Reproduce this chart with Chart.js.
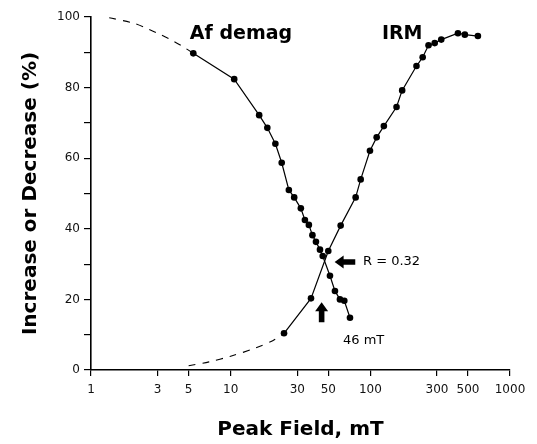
<!DOCTYPE html>
<html>
<head>
<meta charset="utf-8">
<script src="https://cdn.jsdelivr.net/npm/chart.js@4.4.1/dist/chart.umd.min.js"></script>
<style>
  html, body { margin: 0; padding: 0; background: #fff; }
  #wrap { width: 537px; height: 444px; position: relative; }
</style>
</head>
<body>
<div id="wrap"><canvas id="myChart"></canvas></div>
<script>
// Af demagnetisation curve (peak field mT, % remaining)
const afField = [5.4, 10.6, 16.0, 18.3, 20.9, 23.2, 26.1, 28.5, 31.8, 34.0, 36.3, 38.5, 40.8, 43.6, 45.6, 51.4, 55.8, 60.6, 65.1, 71.5];
const afValue = [89.7, 82.4, 72.2, 68.6, 64.1, 58.7, 51.0, 48.9, 45.8, 42.5, 41.1, 38.2, 36.3, 34.1, 32.3, 26.7, 22.4, 20.0, 19.6, 14.8];
// IRM acquisition curve
const irmField = [24.1, 37.6, 50.0, 61.3, 78.5, 85.3, 99.4, 111, 125, 154, 169, 214, 237, 261, 289, 322, 424, 475, 589];
const irmValue = [10.4, 20.3, 33.7, 40.9, 48.9, 54.0, 62.1, 65.9, 69.1, 74.5, 79.2, 86.1, 88.6, 92.0, 92.6, 93.6, 95.4, 95.0, 94.6];
// dashed extrapolations
const afExtField = [1.35, 2.0, 2.5, 3.0, 3.8, 4.6, 5.4];
const afExtValue = [99.8, 98.3, 96.8, 95.4, 93.4, 91.5, 89.7];
const irmExtField = [5.0, 7.0, 10.0, 15.0, 20.0, 24.1];
const irmExtValue = [1.2, 2.3, 3.9, 6.2, 8.3, 10.4];

const xTicks = [1, 3, 5, 10, 30, 50, 100, 300, 500, 1000];
const yTickLabels = [0, 20, 40, 60, 80, 100];

const toPoints = (xs, ys) => xs.map((v, i) => ({ x: v, y: ys[i] }));

// arrows and text labels, placed in data units
const notes = {
    id: 'notes',
    afterDatasetsDraw(chart) {
        const { ctx, scales: { x, y } } = chart;
        ctx.save();
        ctx.fillStyle = '#000';

        function arrow(x1, y1, x2, y2) {
            const ang = Math.atan2(y2 - y1, x2 - x1);
            const len = Math.hypot(x2 - x1, y2 - y1);
            ctx.save();
            ctx.translate(x1, y1);
            ctx.rotate(ang);
            ctx.beginPath();
            ctx.moveTo(0, -2.8);
            ctx.lineTo(len - 9, -2.8);
            ctx.lineTo(len - 9, -6.5);
            ctx.lineTo(len, 0);
            ctx.lineTo(len - 9, 6.5);
            ctx.lineTo(len - 9, 2.8);
            ctx.lineTo(0, 2.8);
            ctx.closePath();
            ctx.fill();
            ctx.restore();
        }

        // pointer to the crossing, and the 46 mT pointer
        arrow(x.getPixelForValue(78), y.getPixelForValue(30.6), x.getPixelForValue(55.5), y.getPixelForValue(30.6));
        arrow(x.getPixelForValue(44.8), y.getPixelForValue(13.5), x.getPixelForValue(44.8), y.getPixelForValue(19.2));

        ctx.textBaseline = 'middle';
        ctx.textAlign = 'left';
        ctx.font = '13px "DejaVu Sans"';
        ctx.fillText('R = 0.32', x.getPixelForValue(88.6), y.getPixelForValue(30.6));
        ctx.fillText('46 mT', x.getPixelForValue(63.7), y.getPixelForValue(8.2));

        ctx.font = 'bold 19px "DejaVu Sans"';
        ctx.fillText('Af demag', x.getPixelForValue(5.1), y.getPixelForValue(95.3));
        ctx.fillText('IRM', x.getPixelForValue(121), y.getPixelForValue(95.3));
        ctx.restore();
    }
};

const solid = {
    borderColor: '#000',
    backgroundColor: '#000',
    borderWidth: 1.2,
    pointRadius: 3.3,
    pointBorderWidth: 0,
    pointBackgroundColor: '#000',
    showLine: true,
    tension: 0
};
const dashed = {
    borderColor: '#000',
    borderWidth: 1.1,
    borderDash: [7, 7],
    pointRadius: 0,
    showLine: true,
    tension: 0.3
};

new Chart(document.getElementById('myChart'), {
    type: 'scatter',
    data: {
        datasets: [
            Object.assign({ label: 'Af demag', data: toPoints(afField, afValue) }, solid),
            Object.assign({ label: 'IRM', data: toPoints(irmField, irmValue) }, solid),
            Object.assign({ label: 'Af extrap', data: toPoints(afExtField, afExtValue) }, dashed),
            Object.assign({ label: 'IRM extrap', data: toPoints(irmExtField, irmExtValue) }, dashed)
        ]
    },
    options: {
        responsive: true,
        maintainAspectRatio: false,
        animation: false,
        layout: { padding: { top: 17, right: 27, left: 0, bottom: 0 } },
        plugins: {
            legend: { display: false },
            tooltip: { enabled: false }
        },
        scales: {
            x: {
                type: 'logarithmic',
                min: 1,
                max: 1000,
                afterBuildTicks: (scale) => {
                    scale.ticks = xTicks.map(v => ({ value: v }));
                },
                afterFit: (scale) => { scale.height = 74; },
                ticks: {
                    autoSkip: false,
                    maxRotation: 0,
                    padding: 7,
                    color: '#111',
                    font: { family: 'DejaVu Sans', size: 12 },
                    callback: (v) => String(v)
                },
                grid: { drawOnChartArea: false, tickLength: 6, color: '#000', lineWidth: 1.2 },
                border: { color: '#000', width: 1.6 },
                title: {
                    display: true,
                    text: 'Peak Field, mT',
                    color: '#000',
                    font: { family: 'DejaVu Sans', size: 20, weight: 'bold' },
                    padding: { top: 0, bottom: 2 }
                }
            },
            y: {
                min: 0,
                max: 100,
                afterFit: (scale) => { scale.width = 91; },
                ticks: {
                    stepSize: 10,
                    padding: 4,
                    color: '#111',
                    font: { family: 'DejaVu Sans', size: 12 },
                    callback: (v) => yTickLabels.includes(v) ? v : ''
                },
                grid: { drawOnChartArea: false, tickLength: 7, color: '#000', lineWidth: 1.2 },
                border: { color: '#000', width: 1.6 },
                title: {
                    display: true,
                    text: 'Increase or Decrease (%)',
                    color: '#000',
                    font: { family: 'DejaVu Sans', size: 20, weight: 'bold' },
                    padding: { top: 19, bottom: 0 }
                }
            }
        }
    },
    plugins: [notes]
});
</script>
</body>
</html>
